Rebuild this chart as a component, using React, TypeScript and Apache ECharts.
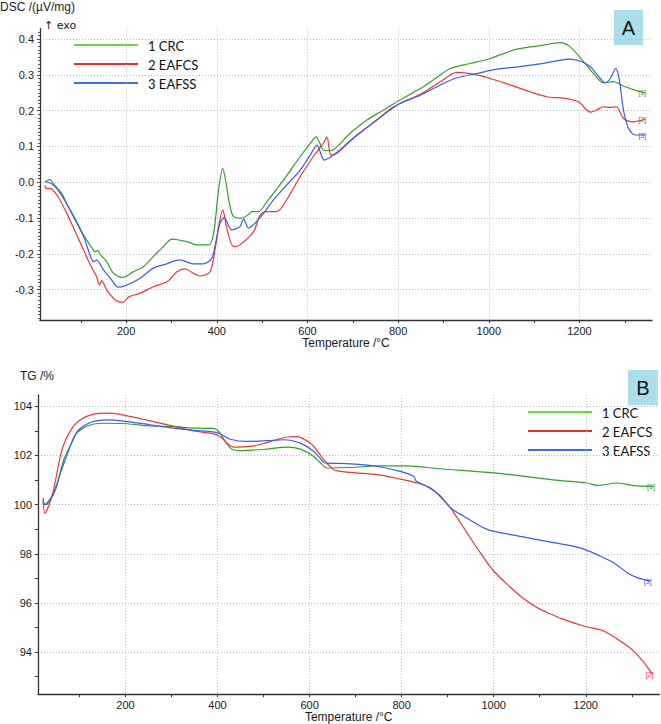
import React, { useEffect, useRef } from "react";
import * as echarts from "echarts";

// ---------- DATA ----------
const seriesNames = ["1 CRC", "2 EAFCS", "3 EAFSS"];
const endTags = ["[1]", "[2]", "[3]"];

// DSC (µV/mg) vs temperature (°C)
const dscCRC = [[21,0.0],[32,0.008],[40,-0.005],[58,-0.031],[69,-0.06],[91,-0.11],[106,-0.147],[120,-0.175],[132,-0.194],[137,-0.19],[142,-0.2],[157,-0.222],[172,-0.254],[193,-0.266],[216,-0.25],[238,-0.236],[260,-0.208],[282,-0.18],[301,-0.159],[334,-0.166],[356,-0.175],[382,-0.175],[393,-0.142],[404,-0.02],[413,0.039],[420,0.0],[428,-0.06],[437,-0.096],[455,-0.1],[470,-0.09],[477,-0.082],[492,-0.082],[510,-0.055],[547,0.006],[584,0.072],[610,0.115],[619,0.127],[627,0.11],[635,0.09],[650,0.088],[694,0.137],[731,0.174],[768,0.202],[804,0.23],[849,0.262],[882,0.29],[915,0.318],[959,0.332],[1003,0.346],[1062,0.372],[1121,0.383],[1157,0.39],[1179,0.379],[1209,0.337],[1231,0.304],[1253,0.278],[1275,0.281],[1297,0.269],[1326,0.256],[1345,0.25]];
const dscEAFCS = [[21,-0.008],[23,-0.017],[32,-0.017],[47,-0.035],[69,-0.087],[84,-0.128],[106,-0.189],[121,-0.231],[135,-0.264],[141,-0.287],[146,-0.275],[157,-0.301],[176,-0.329],[193,-0.336],[205,-0.321],[231,-0.31],[260,-0.292],[290,-0.278],[312,-0.25],[330,-0.242],[348,-0.254],[363,-0.262],[385,-0.25],[396,-0.189],[404,-0.124],[413,-0.077],[422,-0.128],[437,-0.18],[451,-0.175],[481,-0.138],[496,-0.091],[510,-0.082],[532,-0.082],[554,-0.049],[584,0.016],[613,0.072],[635,0.109],[643,0.126],[652,0.076],[665,0.081],[709,0.132],[753,0.174],[790,0.211],[849,0.246],[893,0.281],[930,0.307],[966,0.302],[1003,0.29],[1047,0.272],[1091,0.253],[1128,0.239],[1165,0.235],[1198,0.225],[1209,0.211],[1224,0.196],[1238,0.202],[1253,0.211],[1268,0.209],[1281,0.211],[1297,0.179],[1319,0.169],[1345,0.176]];
const dscEAFSS = [[21,0.002],[40,-0.008],[62,-0.045],[84,-0.096],[106,-0.152],[124,-0.215],[130,-0.222],[135,-0.217],[150,-0.245],[165,-0.268],[183,-0.293],[202,-0.287],[231,-0.268],[260,-0.24],[282,-0.231],[319,-0.217],[348,-0.228],[370,-0.228],[389,-0.212],[398,-0.166],[407,-0.115],[416,-0.099],[433,-0.133],[451,-0.124],[459,-0.103],[470,-0.128],[496,-0.098],[525,-0.049],[554,-0.008],[584,0.034],[606,0.076],[621,0.104],[637,0.062],[657,0.076],[701,0.123],[753,0.174],[804,0.22],[849,0.243],[893,0.272],[930,0.292],[974,0.304],[1018,0.316],[1069,0.323],[1121,0.332],[1176,0.344],[1201,0.339],[1224,0.323],[1246,0.29],[1257,0.278],[1268,0.29],[1280,0.318],[1288,0.286],[1297,0.202],[1308,0.151],[1323,0.132],[1345,0.132]];

// TG (%) vs temperature (°C)
const tgCRC = [[21,100.13],[26,100.0],[33,100.07],[48,100.6],[66,101.83],[81,102.43],[95,102.93],[117,103.2],[146,103.31],[204,103.29],[254,103.2],[305,103.18],[348,103.11],[392,103.1],[403,102.97],[428,102.3],[450,102.2],[508,102.26],[551,102.34],[580,102.26],[609,101.96],[624,101.69],[638,101.49],[689,101.51],[747,101.58],[812,101.58],[881,101.46],[1000,101.29],[1130,101.01],[1203,100.88],[1225,100.78],[1268,100.88],[1304,100.77],[1348,100.74]];
const tgEAFCS = [[21,100.2],[25,99.66],[33,99.93],[44,100.61],[62,102.23],[84,103.11],[102,103.45],[131,103.68],[167,103.72],[204,103.61],[254,103.41],[305,103.18],[348,103.0],[399,102.84],[417,102.57],[435,102.34],[479,102.39],[508,102.53],[551,102.75],[573,102.77],[602,102.5],[609,102.37],[631,101.83],[653,101.42],[689,101.31],[747,101.22],[797,101.04],[834,100.88],[863,100.68],[881,100.38],[906,99.87],[942,98.85],[971,98.04],[1000,97.3],[1058,96.28],[1094,95.81],[1116,95.61],[1152,95.33],[1199,95.04],[1239,94.86],[1275,94.45],[1304,94.05],[1326,93.58],[1345,93.1]];
const tgEAFSS = [[21,100.27],[24,100.0],[30,100.07],[44,100.47],[59,101.29],[73,102.03],[95,102.97],[124,103.34],[160,103.45],[204,103.38],[254,103.25],[305,103.11],[348,103.02],[399,102.93],[428,102.66],[464,102.57],[508,102.6],[544,102.64],[580,102.5],[609,102.16],[631,101.72],[638,101.69],[689,101.66],[739,101.58],[797,101.35],[826,101.15],[832,100.95],[855,100.74],[881,100.41],[906,99.87],[935,99.53],[986,98.99],[1058,98.71],[1130,98.45],[1188,98.24],[1232,97.9],[1261,97.63],[1290,97.23],[1312,97.03],[1341,96.89]];

// ticks
const tempTicks = [200, 400, 600, 800, 1000, 1200];
const tempMinorTicks = [100, 300, 500, 700, 900, 1100, 1300];
const dscTicks = [-0.3, -0.2, -0.1, 0.0, 0.1, 0.2, 0.3, 0.4];
const tgTicks = [94, 96, 98, 100, 102, 104];
const tgMinorTicks = [93, 95, 97, 99, 101, 103];

const curveColors = ["#33a02c", "#f23434", "#3a5cf0"];
const legendColors = ["#66dd33", "#ee2a2a", "#3d6ee8"];

const FONT = "'Liberation Sans', Arial, sans-serif";

export default function App() {
  const ref = useRef<HTMLDivElement>(null);

  useEffect(() => {
    document.body.style.margin = "0";
    const chart = echarts.init(ref.current!, null, { renderer: "svg" });

    const dscMinor: number[] = [];
    for (let i = -38; i <= 42; i++) dscMinor.push(i / 100);

    const gridLine = { show: true, lineStyle: { color: "#b3bfcc", type: [1, 2] as any, width: 1 } };
    const axisLine = { show: true, onZero: false, lineStyle: { color: "#333", width: 1.3 } };
    const labelStyle = { color: "#1a1a1a", fontSize: 11, fontFamily: FONT };

    const xMain = (gridIndex: number) => ({
      type: "value",
      gridIndex,
      min: 10,
      max: 1360,
      position: "bottom",
      axisLine,
      axisTick: { show: true, length: 3, lineStyle: { color: "#333" }, customValues: tempTicks },
      axisLabel: { ...labelStyle, margin: 5, customValues: tempTicks, formatter: (v: number) => String(v) },
      splitLine: gridLine,
      name: "Temperature /°C",
      nameLocation: "middle",
      nameGap: 16,
      nameTextStyle: { color: "#1a1a1a", fontSize: 12, fontFamily: FONT },
    });
    const xMinor = (gridIndex: number) => ({
      type: "value",
      gridIndex,
      min: 10,
      max: 1360,
      position: "bottom",
      axisLine: { show: false, onZero: false },
      axisTick: { show: true, length: 3, lineStyle: { color: "#333" }, customValues: tempMinorTicks },
      axisLabel: { show: false },
      splitLine: { show: false },
    });

    const mkLine = (name: string, data: number[][], i: number, xi: number, yi: number) => ({
      type: "line",
      name,
      data,
      xAxisIndex: xi,
      yAxisIndex: yi,
      showSymbol: false,
      smooth: 0.3,
      lineStyle: { color: curveColors[i], width: 1.2 },
      itemStyle: { color: curveColors[i] },
      endLabel: {
        show: true,
        formatter: endTags[i],
        fontSize: 7,
        color: curveColors[i],
        fontFamily: FONT,
        align: "right",
        distance: 1,
      },
      z: 3,
    });

    const legend = (x0: number, x1: number, xt: number, ys: number[]) =>
      ys.flatMap((y, i) => [
        { type: "line", shape: { x1: x0, y1: y, x2: x1, y2: y }, style: { stroke: legendColors[i], lineWidth: 2 } },
        {
          type: "text",
          x: xt,
          y: y + 1,
          style: { text: seriesNames[i], fontSize: 13, fontFamily: "Lato, sans-serif", fill: "#111", verticalAlign: "middle", align: "left" },
        },
      ]);

    chart.setOption({
      animation: false,
      backgroundColor: "#fff",
      grid: [
        { left: 40, top: 28.4, width: 612, height: 291.6, containLabel: false },
        { left: 38, top: 395, width: 621.4, height: 300, containLabel: false },
      ],
      xAxis: [xMain(0), xMinor(0), xMain(1), xMinor(1)],
      yAxis: [
        {
          type: "value",
          gridIndex: 0,
          min: -0.385,
          max: 0.43,
          position: "left",
          axisLine,
          axisTick: { show: true, length: 3, lineStyle: { color: "#333" }, customValues: dscTicks },
          axisLabel: { ...labelStyle, margin: 6, customValues: dscTicks, formatter: (v: number) => v.toFixed(1) },
          splitLine: gridLine,
        },
        {
          type: "value",
          gridIndex: 0,
          min: -0.385,
          max: 0.43,
          position: "left",
          axisLine: { show: false, onZero: false },
          axisTick: { show: true, length: 2, lineStyle: { color: "#555" }, customValues: dscMinor },
          axisLabel: { show: false },
          splitLine: { show: false },
        },
        {
          type: "value",
          gridIndex: 1,
          min: 92.29,
          max: 104.46,
          position: "left",
          axisLine,
          axisTick: { show: true, length: 3, lineStyle: { color: "#333" }, customValues: tgTicks },
          axisLabel: { ...labelStyle, margin: 6, customValues: tgTicks },
          splitLine: gridLine,
        },
        {
          type: "value",
          gridIndex: 1,
          min: 92.29,
          max: 104.46,
          position: "left",
          axisLine: { show: false, onZero: false },
          axisTick: { show: true, length: 3, lineStyle: { color: "#333" }, customValues: tgMinorTicks },
          axisLabel: { show: false },
          splitLine: { show: false },
        },
      ],
      series: [
        mkLine(seriesNames[0], dscCRC, 0, 0, 0),
        mkLine(seriesNames[1], dscEAFCS, 1, 0, 0),
        mkLine(seriesNames[2], dscEAFSS, 2, 0, 0),
        mkLine(seriesNames[0], tgCRC, 0, 2, 2),
        mkLine(seriesNames[1], tgEAFCS, 1, 2, 2),
        mkLine(seriesNames[2], tgEAFSS, 2, 2, 2),
      ],
      graphic: [
        { type: "text", x: 0, y: 7, style: { text: "DSC /(µV/mg)", fontSize: 12, fontFamily: FONT, fill: "#1a1a1a", verticalAlign: "middle" } },
        { type: "text", x: 44, y: 25, style: { text: "↑ exo", fontSize: 11, fontFamily: "'DejaVu Sans', sans-serif", fill: "#1a1a1a", verticalAlign: "middle" } },
        { type: "text", x: 20, y: 376, style: { text: "TG /%", fontSize: 12, fontFamily: FONT, fill: "#1a1a1a", verticalAlign: "middle" } },
        { type: "rect", shape: { x: 614, y: 10, width: 29, height: 35 }, style: { fill: "#aadfe9" } },
        { type: "text", x: 628.5, y: 28, style: { text: "A", fontSize: 20, fontFamily: FONT, fill: "#111", align: "center", verticalAlign: "middle" } },
        { type: "rect", shape: { x: 628, y: 370, width: 30, height: 35 }, style: { fill: "#aadfe9" } },
        { type: "text", x: 643, y: 388, style: { text: "B", fontSize: 20, fontFamily: FONT, fill: "#111", align: "center", verticalAlign: "middle" } },
        ...legend(74, 138, 148, [45, 64, 83]),
        ...legend(528, 592, 602, [412, 431, 450]),
      ],
    });

    return () => chart.dispose();
  }, []);

  return <div ref={ref} style={{ width: 661, height: 724 }} />;
}
